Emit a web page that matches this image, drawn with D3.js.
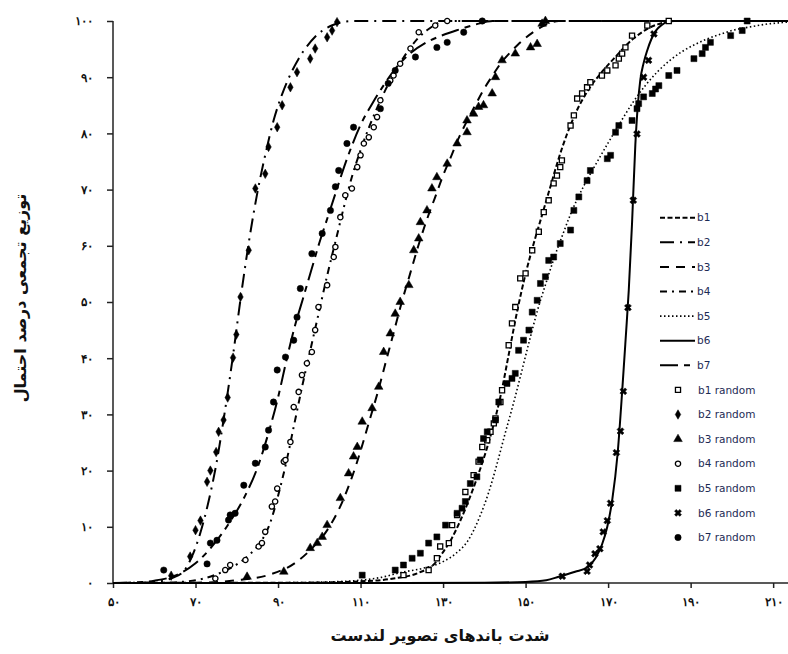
<!DOCTYPE html>
<html>
<head>
<meta charset="utf-8">
<script src="https://cdn.jsdelivr.net/npm/d3@7"></script>
<style>
  body { margin: 0; background: #fff; }
  svg { display: block; font-family: "DejaVu Sans", sans-serif; }
  .axis path, .axis line { stroke: #222; stroke-width: 1.5; }
  .axis text { font-size: 12px; font-weight: bold; fill: #111; }
  .title { font-size: 16px; font-weight: bold; fill: #111; }
  .legend text { font-size: 10.5px; fill: #1d2b55; }
</style>
</head>
<body>
<div id="chart"></div>
<script>
const SERIES = ['b1', 'b2', 'b3', 'b4', 'b5', 'b6', 'b7'];
const X_TICKS = [50, 70, 90, 110, 130, 150, 170, 190, 210];
const Y_TICKS = [0, 10, 20, 30, 40, 50, 60, 70, 80, 90, 100];
const X_TITLE = 'شدت باندهای تصویر لندست';
const Y_TITLE = 'توزیع تجمعی درصد احتمال';

// fitted curves: [band value, cumulative %]
const B1_FIT = [[50,0],[95,0.05],[110,0.3],[118,0.8],[124,1.8],[128,3.5],[130,5.5],[132,7.8],[134,10.8],[136,14.3],[138,18.2],[140,22.5],[142,27.5],[144,33.5],[146,41],[148,48.5],[150,55],[152,60.5],[154,65.5],[156,70.5],[158,75.5],[160,79.8],[162,83.4],[164,86.3],[166,88.6],[168,90.5],[170,92.2],[172,93.8],[174,95.4],[176,96.8],[178,97.9],[180,98.8],[182,99.4],[184,99.8],[186,100],[213.6,100]];
const B2_FIT = [[50,0],[55,0.05],[60,0.2],[64,0.8],[67,2],[69,4.5],[71,8.5],[73,14],[75,21],[77,30],[79,40],[81,51],[83,61],[85,69.5],[87,76.5],[89,82.5],[91,87],[93,90.5],[95,93.3],[97,95.5],[99,97.2],[101,98.4],[103,99.2],[105,99.7],[108,100],[213.6,100]];
const B3_FIT = [[50,0],[70,0.05],[80,0.5],[88,1.5],[94,3.5],[98,6],[102,9.5],[105,13.5],[108,19],[110,23.5],[112,28.5],[114,33.5],[116,39],[118,44.5],[120,50],[122,55],[124,60],[126,64.5],[128,68.5],[130,72.5],[132,76],[134,79.5],[136,82.5],[138,85.3],[140,88],[142,90.3],[144,92.5],[146,94.2],[148,95.7],[150,97],[152,98.1],[154,99],[156,99.7],[158,100],[213.6,100]];
const B4_FIT = [[50,0],[62,0.05],[68,0.3],[72,0.8],[76,1.8],[80,3.3],[83,5],[86,7.5],[88,10.5],[90,15.5],[92,21.5],[94,28.5],[96,35.5],[98,42],[100,48.5],[102,55],[104,61],[106,67],[108,72.5],[110,77],[112,81],[114,84.5],[116,87.7],[118,90.5],[120,93],[122,95.2],[124,97],[126,98.3],[128,99.3],[130,100],[213.6,100]];
const B5_FIT = [[50,0],[90,0.05],[100,0.15],[110,0.5],[115,1],[120,1.9],[125,2.6],[130,3.8],[133,5.2],[136,7.5],[139,12],[141,16],[143,21],[145,26.5],[147,31.8],[149,37.5],[151,43.3],[153,48.8],[155,53.5],[157,58],[159,62],[161,65.8],[164,70.5],[167,74.5],[170,78.3],[173,82],[176,85.5],[179,88.5],[182,91],[185,93],[188,94.6],[191,95.8],[194,96.8],[197,97.6],[200,98.3],[204,98.9],[208,99.4],[213.6,99.8]];
const B6_FIT = [[50,0],[120,0.02],[140,0.05],[150,0.2],[155,0.5],[158,1.1],[162,2],[165,2.8],[167,4.5],[168.5,6.8],[169.8,10],[171,14.8],[172.3,23],[173.4,34],[174.3,44],[175,52],[175.8,64],[176.6,78],[177.2,85],[177.8,89.5],[178.6,92.5],[179.5,94.8],[180.5,96.8],[181.5,98.2],[183,99.3],[184.5,99.9],[186,100],[213.6,100]];
const B7_FIT = [[50,0],[55,0.1],[60,0.4],[65,1.3],[70,3.5],[74,6.5],[78,10.5],[82,15.5],[85,20.5],[88,27.5],[90,33],[92,39.5],[94,45.5],[96,50.5],[98,55.5],[100,60.5],[102,65],[104,69.5],[106,74],[108,78],[110,81.5],[113,85.5],[116,89],[119,92],[122,94.2],[126,96.2],[130,97.5],[134,98.5],[138,99.4],[142,100],[213.6,100]];

// random samples: [band value, cumulative %]
const B1_RANDOM = [[120.4,1.4],[126.5,2.3],[128.5,4.4],[129.3,6.5],[131.4,7.1],[132.2,10.3],[133.4,12.1],[135.4,16.2],[137.4,19.2],[138.6,21.6],[139.5,24.2],[140.7,25.4],[141.5,26.9],[142.3,28.4],[142.7,29.3],[143.9,32.2],[144.3,34.3],[145.9,42.3],[146.7,46.2],[147.5,49.1],[148.7,54.2],[150,55.1],[151.6,59.2],[153.2,62.5],[154.4,66],[155.6,68.1],[156.8,71.1],[157.6,72.5],[158.4,74],[158.8,75.2],[160.9,81.4],[161.7,83.2],[162.5,86.2],[163.7,87.1],[164.9,88.2],[165.7,89.1],[168.5,90.3],[169.8,91.2],[171.8,92.1],[172.6,93.3],[173.4,94.2],[174.2,95.3],[175.8,97.4],[179.5,99.2],[184.7,100]];
const B2_RANDOM = [[64.1,1.3],[68.7,4.7],[70,9.4],[71.2,11.1],[72.8,18],[73.6,20],[75,23.3],[75.6,26.9],[76.8,29],[77.8,33],[79.1,40.1],[79.9,44.2],[80.9,50.9],[82.9,59.2],[84.5,70.2],[86.9,72.8],[87.7,77.6],[89.8,81.1],[91,85],[93,88.2],[94.6,90.9],[97.8,93.3],[99,95.1],[101.9,97.1],[103.1,98.3],[104.3,99.8]];
const B3_RANDOM = [[82.5,1.1],[91.4,2],[97.8,6.2],[99.5,7.1],[100.7,8.2],[101.9,10.3],[105.1,15.1],[107.1,19.5],[108.3,22.5],[109.2,24.2],[110.4,28.7],[112.8,31.1],[114.4,34.9],[115.6,41.1],[117.2,44.4],[118.4,47.9],[119.6,50],[121.7,53],[122.9,59.2],[124.1,61.3],[124.5,64.2],[126.1,66.3],[127.3,70.2],[128.5,72.2],[131,74.6],[133.4,78.2],[135.8,80.2],[135.8,82.3],[137.4,83.5],[138.6,84.7],[139.8,85],[141.9,87.1],[142.7,90],[144.3,93],[147.5,94.2],[151.2,95.3],[152.8,95.9],[154,99.5],[154.8,100]];
const B4_RANDOM = [[74.8,0.8],[77.2,2.3],[78.4,3.2],[82.1,4.1],[85.3,6.5],[86.1,7.1],[86.9,9.1],[88.5,13.6],[89.3,14.5],[89.8,16.8],[91.4,21.6],[91.8,21.9],[93,25.1],[93.8,31.3],[95,34],[95.8,37],[97,39.1],[98.2,41.1],[99,45],[99.8,49.1],[101.9,53],[103.5,58],[103.9,59.8],[105.1,65.1],[106.3,69],[107.9,70.2],[109.2,74],[110,76.1],[110.8,78.2],[112,79.3],[113.2,81.1],[114,82.9],[114.8,85.9],[117.2,89.4],[118,90.3],[119.6,92.4],[122.1,95.1],[124.1,98],[128.1,99.2],[131,100]];
const B5_RANDOM = [[110.4,1.4],[118.4,2.3],[120.4,3.2],[122.5,4.4],[124.5,5.3],[126.5,7.1],[128.5,8.2],[130.6,10.3],[133.4,12.4],[134.6,13.3],[135.4,14.5],[136.6,17.7],[138.2,18.9],[139,21.9],[139.8,25.7],[140.7,26.9],[142.7,29],[143.5,32.2],[145.5,35.5],[146.7,36.4],[147.5,37.3],[148.3,41.4],[149.5,43.2],[150.8,45],[151.6,48.2],[152.8,50.3],[153.6,53.3],[154.8,54.5],[155.6,57.4],[156.8,58],[158.4,60.4],[160.9,62.8],[161.7,66.3],[162.9,68.7],[164.9,71.6],[165.7,73.4],[169.8,75.5],[170.6,76.1],[171.8,80.2],[172.6,81.4],[175.8,82.3],[177,84.4],[177.4,85.3],[178.6,86.5],[180.7,87.1],[181.5,87.9],[182.3,88.5],[184.7,90.3],[186.7,91.2],[190.8,93.3],[192.8,94.2],[193.6,95.3],[194.8,96.2],[199.7,97.4],[202.5,98.3],[203.7,100]];
const B6_RANDOM = [[158.9,1.2],[164.9,2.1],[165.5,3.2],[166.8,5.2],[168,6.1],[168.8,9.1],[169.8,11.1],[170.6,14.2],[172,23.2],[173,27],[173.7,34.1],[174.8,49],[176.1,68.1],[177,79.9],[178.6,90],[179.8,93],[181.1,97.7]];
const B7_RANDOM = [[62.3,2.3],[72.8,3.4],[73.6,7.1],[75.2,7.6],[78,11.2],[78.4,12.1],[79.6,12.4],[81.7,17.4],[84.5,21.3],[86.9,24.2],[87.7,27.2],[88.9,32.2],[89.8,37.9],[91.8,40.2],[93.8,43.2],[94.6,47.3],[95.4,52.4],[98.2,58.6],[100.7,62.2],[102.7,66.3],[103.9,70.5],[104.7,73.4],[106.7,78.2],[108.3,81.1],[114.8,84.4],[116.7,88.9],[118.4,91.2],[123.3,93.6],[128.5,95.3],[131,96.2],[135,98],[139.5,100]];

const FITS = [B1_FIT, B2_FIT, B3_FIT, B4_FIT, B5_FIT, B6_FIT, B7_FIT];
const RANDOMS = [B1_RANDOM, B2_RANDOM, B3_RANDOM, B4_RANDOM, B5_RANDOM, B6_RANDOM, B7_RANDOM];

const DASH = ['5,2.5', '14,6,2,6', '9,7', '7,5,2,5', '1.5,2.5', null, '18,6,6,6'];
const LINE_W = [2, 2, 2, 2, 1.6, 2, 2];
const FA = '۰۱۲۳۴۵۶۷۸۹';
const toFa = n => String(n).replace(/\d/g, d => FA[d]);

const markers = [
  { type: d3.symbolSquare, size: 26, fill: '#fff', rot: 0 },
  { type: d3.symbolDiamond, size: 26, fill: '#000', rot: 0 },
  { type: d3.symbolTriangle, size: 32, fill: '#000', rot: 0 },
  { type: d3.symbolCircle, size: 22, fill: '#fff', rot: 0 },
  { type: d3.symbolSquare, size: 36, fill: '#000', rot: 0 },
  { type: d3.symbolCross, size: 30, fill: '#000', rot: 45 },
  { type: d3.symbolCircle, size: 32, fill: '#000', rot: 0 },
];

const w = 788, h = 654;
const m = { top: 21, right: 0, bottom: 71, left: 113 };
const iw = w - m.left - m.right;
const ih = h - m.top - m.bottom;

const svg = d3.select('#chart').append('svg')
  .attr('width', w).attr('height', h);

const g = svg.append('g').attr('transform', `translate(${m.left},${m.top})`);

const x = d3.scaleLinear().domain([50, 213.6]).range([0, iw]);
const y = d3.scaleLinear().domain([0, 100]).range([ih, 0]);

g.append('g')
  .attr('class', 'axis')
  .attr('transform', `translate(0,${ih})`)
  .call(d3.axisBottom(x).tickValues(X_TICKS).tickSize(5).tickPadding(9).tickFormat(toFa))
  .call(a => a.select('.domain').attr('d', `M0,0H${iw}`));

g.append('g')
  .attr('class', 'axis')
  .call(d3.axisLeft(y).tickValues(Y_TICKS).tickSize(6).tickPadding(14).tickFormat(toFa))
  .call(a => a.select('.domain').attr('d', `M0,0V${ih}`));

svg.append('text')
  .attr('class', 'title')
  .attr('x', 440).attr('y', 641)
  .attr('text-anchor', 'middle')
  .text(X_TITLE);

svg.append('text')
  .attr('class', 'title')
  .attr('transform', 'translate(26,298) rotate(-90)')
  .attr('text-anchor', 'middle')
  .text(Y_TITLE);

const line = d3.line()
  .x(d => x(d[0]))
  .y(d => y(d[1]))
  .curve(d3.curveMonotoneX);

FITS.forEach((data, i) => {
  g.append('path')
    .datum(data)
    .attr('fill', 'none')
    .attr('stroke', '#000')
    .attr('stroke-width', LINE_W[i])
    .attr('stroke-dasharray', DASH[i])
    .attr('d', line);
});

RANDOMS.forEach((data, i) => {
  const mk = markers[i];
  g.append('g').selectAll('path')
    .data(data)
    .join('path')
    .attr('transform', d => `translate(${x(d[0])},${y(d[1])}) rotate(${mk.rot})`)
    .attr('d', d3.symbol(mk.type, mk.size))
    .attr('fill', mk.fill)
    .attr('stroke', '#000')
    .attr('stroke-width', mk.fill === '#fff' ? 1.3 : 0.5);
});

// legend
const lg = svg.append('g').attr('class', 'legend');
const step = 24.6;
SERIES.forEach((s, i) => {
  const ly = 217.7 + i * step;
  lg.append('line')
    .attr('x1', 660).attr('x2', 695).attr('y1', ly).attr('y2', ly)
    .attr('stroke', '#000')
    .attr('stroke-width', LINE_W[i])
    .attr('stroke-dasharray', DASH[i]);
  lg.append('text').attr('x', 697).attr('y', ly).attr('dy', '0.35em').text(s);
});
SERIES.forEach((s, i) => {
  const ly = 217.7 + (i + 7) * step;
  const mk = markers[i];
  lg.append('path')
    .attr('transform', `translate(678,${ly}) rotate(${mk.rot})`)
    .attr('d', d3.symbol(mk.type, mk.size))
    .attr('fill', mk.fill)
    .attr('stroke', '#000')
    .attr('stroke-width', mk.fill === '#fff' ? 1.3 : 0.5);
  lg.append('text').attr('x', 698).attr('y', ly).attr('dy', '0.35em').text(s + ' random');
});
</script>
</body>
</html>
